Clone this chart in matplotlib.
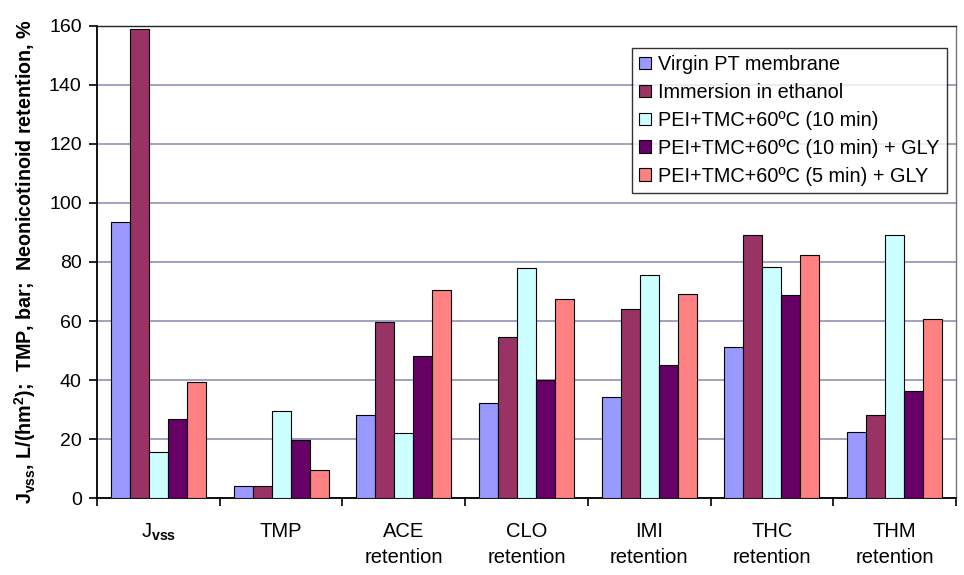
import numpy as np
import matplotlib
matplotlib.use("Agg")
import matplotlib.pyplot as plt

plt.rcParams["font.family"] = ["Liberation Sans", "DejaVu Sans"]
plt.rcParams["mathtext.fontset"] = "custom"
plt.rcParams["mathtext.rm"] = "Liberation Sans"
plt.rcParams["mathtext.bf"] = "Liberation Sans:bold"
plt.rcParams["mathtext.it"] = "Liberation Sans:italic"

categories = ["J$_{\\mathbf{vss}}$", "TMP", "ACE\nretention", "CLO\nretention",
              "IMI\nretention", "THC\nretention", "THM\nretention"]
series_names = ["Virgin PT membrane", "Immersion in ethanol", "PEI+TMC+60ºC (10 min)",
                "PEI+TMC+60ºC (10 min) + GLY", "PEI+TMC+60ºC (5 min) + GLY"]
virgin = [93.6, 4.0, 28.0, 32.3, 34.3, 51.1, 22.4]
ethanol = [158.9, 4.0, 59.7, 54.5, 64.2, 89.2, 28.0]
pei_10 = [15.5, 29.6, 21.9, 77.9, 75.6, 78.3, 89.2]
pei_10_gly = [26.9, 19.8, 48.0, 40.1, 45.0, 68.7, 36.3]
pei_5_gly = [39.2, 9.6, 70.5, 67.6, 69.2, 82.5, 60.6]
colors = ["#9999FF", "#993366", "#CCFFFF", "#660066", "#FF8080"]

data = [virgin, ethanol, pei_10, pei_10_gly, pei_5_gly]

fig = plt.figure(figsize=(9.64, 5.75), dpi=100)
ax = fig.add_axes([0.1006, 0.1339, 0.8911, 0.8209])

x = np.arange(len(categories))
w = 0.155
for i, (vals, name, c) in enumerate(zip(data, series_names, colors)):
    ax.bar(x + (i - 2) * w, vals, w, color=c, edgecolor="black", linewidth=0.8,
           label=name, zorder=3)

ax.set_xlim(-0.5, len(categories) - 0.5)
ax.set_ylim(0, 160)
ax.set_yticks(np.arange(0, 161, 20))
ax.tick_params(axis="y", labelsize=14, length=6, width=1.2, direction="out", pad=5)
ax.grid(True, axis="y", color="#9999BB", linewidth=1.3, zorder=0)

ax.set_xticks(x)
ax.set_xticklabels(categories, fontsize=14.5, linespacing=1.5, va="top")
ax.tick_params(axis="x", which="major", length=0, pad=17)
ax.set_xticks(np.arange(-0.5, len(categories)), minor=True)
ax.tick_params(axis="x", which="minor", length=6, width=1.2, direction="out")

for s in ["left", "bottom"]:
    ax.spines[s].set_linewidth(1.3)
    ax.spines[s].set_color("black")
ax.spines["top"].set_color("#222222")
ax.spines["top"].set_linewidth(1.0)
ax.spines["right"].set_color("#777777")
ax.spines["right"].set_linewidth(1.0)

ax.set_ylabel("J$_{\\mathbf{vss}}$, L/(hm$^{\\mathbf{2}}$);  TMP, bar;  Neonicotinoid retention, %",
              fontsize=14.2, fontweight="bold", labelpad=8)

leg = ax.legend(loc="upper left", bbox_to_anchor=(0.656, 0.9165), bbox_transform=fig.transFigure,
                borderaxespad=0, fontsize=14.3, frameon=True, fancybox=False,
                handlelength=0.6, handleheight=0.6, handletextpad=0.35,
                labelspacing=0.45, borderpad=0.35)
leg.get_frame().set_edgecolor("black")
leg.get_frame().set_linewidth(1.0)

fig.savefig("out.png", dpi=100)
